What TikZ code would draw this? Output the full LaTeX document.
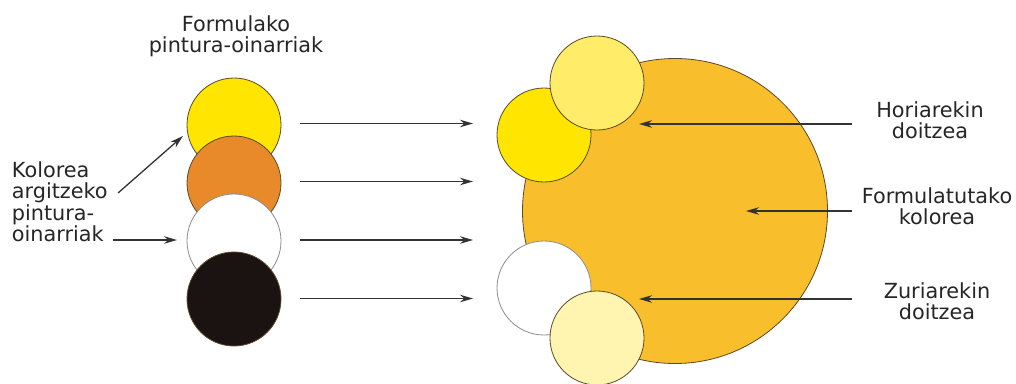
\documentclass[tikz,border=0pt]{standalone}
\usepackage{fontspec}
\setmainfont{DejaVu Sans}
\usetikzlibrary{arrows.meta}
\definecolor{baseyellow}{HTML}{FFE500}
\definecolor{baseorange}{HTML}{E88A2A}
\definecolor{baseblack}{HTML}{1A1311}
\definecolor{mixcolor}{HTML}{F9BE2B}
\definecolor{lightyellow}{HTML}{FFED6A}
\definecolor{paleyellow}{HTML}{FFF4B0}
\definecolor{rim}{HTML}{5A4A2A}
\tikzset{
  paint/.style={draw=rim,line width=0.8pt,circle,inner sep=0pt,minimum size=94pt},
  lbl/.style={inner sep=0pt,align=center,font=\fontsize{20.8}{21.3}\selectfont,text=black!85},
  pointer/.style={-{Stealth[length=13pt,width=7.5pt]},line width=1.3pt,draw=black!80}
}
\begin{document}
\begin{tikzpicture}[x=1pt,y=-1pt]
\useasboundingbox (0,0) rectangle (1016,383);
% base paints
\node[paint,fill=baseyellow] (p1) at (234,125) {};
\node[paint,fill=baseorange] (p2) at (234,183) {};
\node[paint,fill=white,draw=black!45] (p3) at (234,241) {};
\node[paint,fill=baseblack] (p4) at (234,299) {};
% mixed colour
\node[draw=rim,line width=0.8pt,circle,inner sep=0pt,minimum size=305pt,fill=mixcolor] (mix) at (675,211) {};
\node[paint,fill=baseyellow] (tone1) at (544,135) {};
\node[paint,fill=lightyellow] (tone2) at (597,83) {};
\node[paint,fill=white,draw=black!45] (tone3) at (544,288) {};
\node[paint,fill=paleyellow] (tone4) at (597,338) {};
% labels
\node[lbl] (title) at (236,36.3) {Formulako\\pintura-oinarriak};
\node[lbl,align=left,anchor=west] (light) at (11.7,201.7) {Kolorea\\argitzeko\\pintura-\\oinarriak};
\node[lbl] (yadj) at (930,120) {Horiarekin\\doitzea};
\node[lbl] (result) at (937,206.4) {Formulatutako\\kolorea};
\node[lbl] (wadj) at (937,301) {Zuriarekin\\doitzea};
% arrow ends
\coordinate (a1) at (300,123.5); \coordinate (b1) at (473,123.5);
\coordinate (a2) at (300,181.5); \coordinate (b2) at (473,181.5);
\coordinate (a3) at (300,240); \coordinate (b3) at (473,240);
\coordinate (a4) at (300,298.5); \coordinate (b4) at (473,298.5);
\coordinate (l1) at (118,193); \coordinate (m1) at (183,136);
\coordinate (l2) at (113,240); \coordinate (m2) at (177,240);
\coordinate (r1) at (852,124); \coordinate (s1) at (639,124);
\coordinate (r2) at (852,211); \coordinate (s2) at (746,211);
\coordinate (r3) at (852,299); \coordinate (s3) at (639,299);
\draw[pointer] (a1)--(b1); \draw[pointer] (a2)--(b2);
\draw[pointer] (a3)--(b3); \draw[pointer] (a4)--(b4);
\draw[pointer] (l1)--(m1); \draw[pointer] (l2)--(m2);
\draw[pointer] (r1)--(s1); \draw[pointer] (r2)--(s2); \draw[pointer] (r3)--(s3);
\end{tikzpicture}
\end{document}
